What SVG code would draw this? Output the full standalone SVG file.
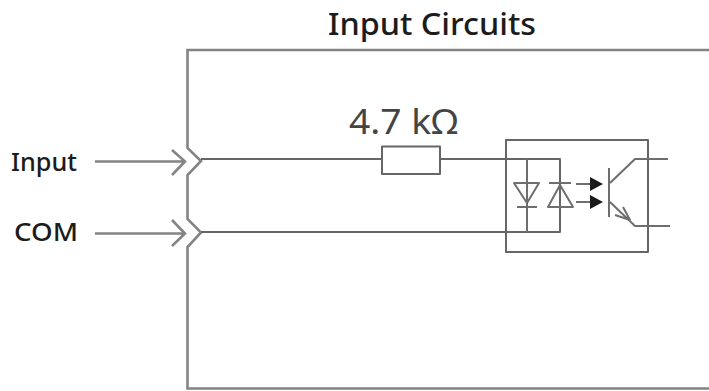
<svg xmlns="http://www.w3.org/2000/svg" width="709" height="391" viewBox="0 0 709 391">
<style>
.w{fill:none;stroke:#666;stroke-width:2;stroke-linejoin:round}
.t{stroke-width:2;stroke:#6e6e6e}
.g{fill:none;stroke:#848484;stroke-width:2.6}
text{font-family:"Noto Sans","Open Sans","Liberation Sans",sans-serif;fill:#1c1c1c}
</style>
<rect width="709" height="391" fill="#fff"/>
<g id="title"><text x="328" y="35" font-size="31" font-weight="500" textLength="208" lengthAdjust="spacingAndGlyphs">Input Circuits</text></g>
<g id="enclosure"><path class="g" d="M709 50H187.500V148L201 161L187.500 175V219L201 232.500L187.500 247V388.500H709"/></g>
<g id="connectors">
<path class="g" d="M95 161.500H185M172 150L185 161.500L172 175M95 233.500H185M172 220L185 233.500L172 246"/>
<path class="w" d="M201 159H382M440 159H560V232H201"/>
<path class="w t" d="M527 159V232"/>
</g>
<g id="input-label"><text x="11" y="171" font-size="26" font-weight="500" textLength="66" lengthAdjust="spacingAndGlyphs">Input</text></g>
<g id="com-label"><text x="14" y="241" font-size="26" font-weight="500" textLength="64" lengthAdjust="spacingAndGlyphs">COM</text></g>
<g id="resistor">
<rect class="w" x="382" y="146.500" width="58" height="27.500" fill="#fff"/>
<text x="349" y="134" font-size="35" style="fill:#444" textLength="109" lengthAdjust="spacingAndGlyphs">4.7 kΩ</text>
</g>
<g id="optocoupler">
<rect class="w" x="506" y="140" width="142" height="112"/>
<path class="w t" d="M514 183H539L527 203ZM517 207H537M549 183H571M560 185L548 207H573ZM576 184H590M576 202H590"/>
<path d="M590 177L603 184L590 191ZM590 195L603 202L590 209Z" fill="#1a1a1a"/>
<path class="w t" d="M609 168V217M610 183L635 159H668M610 202L635 226H670M623 207L630 220L615 215"/>
</g>
</svg>
